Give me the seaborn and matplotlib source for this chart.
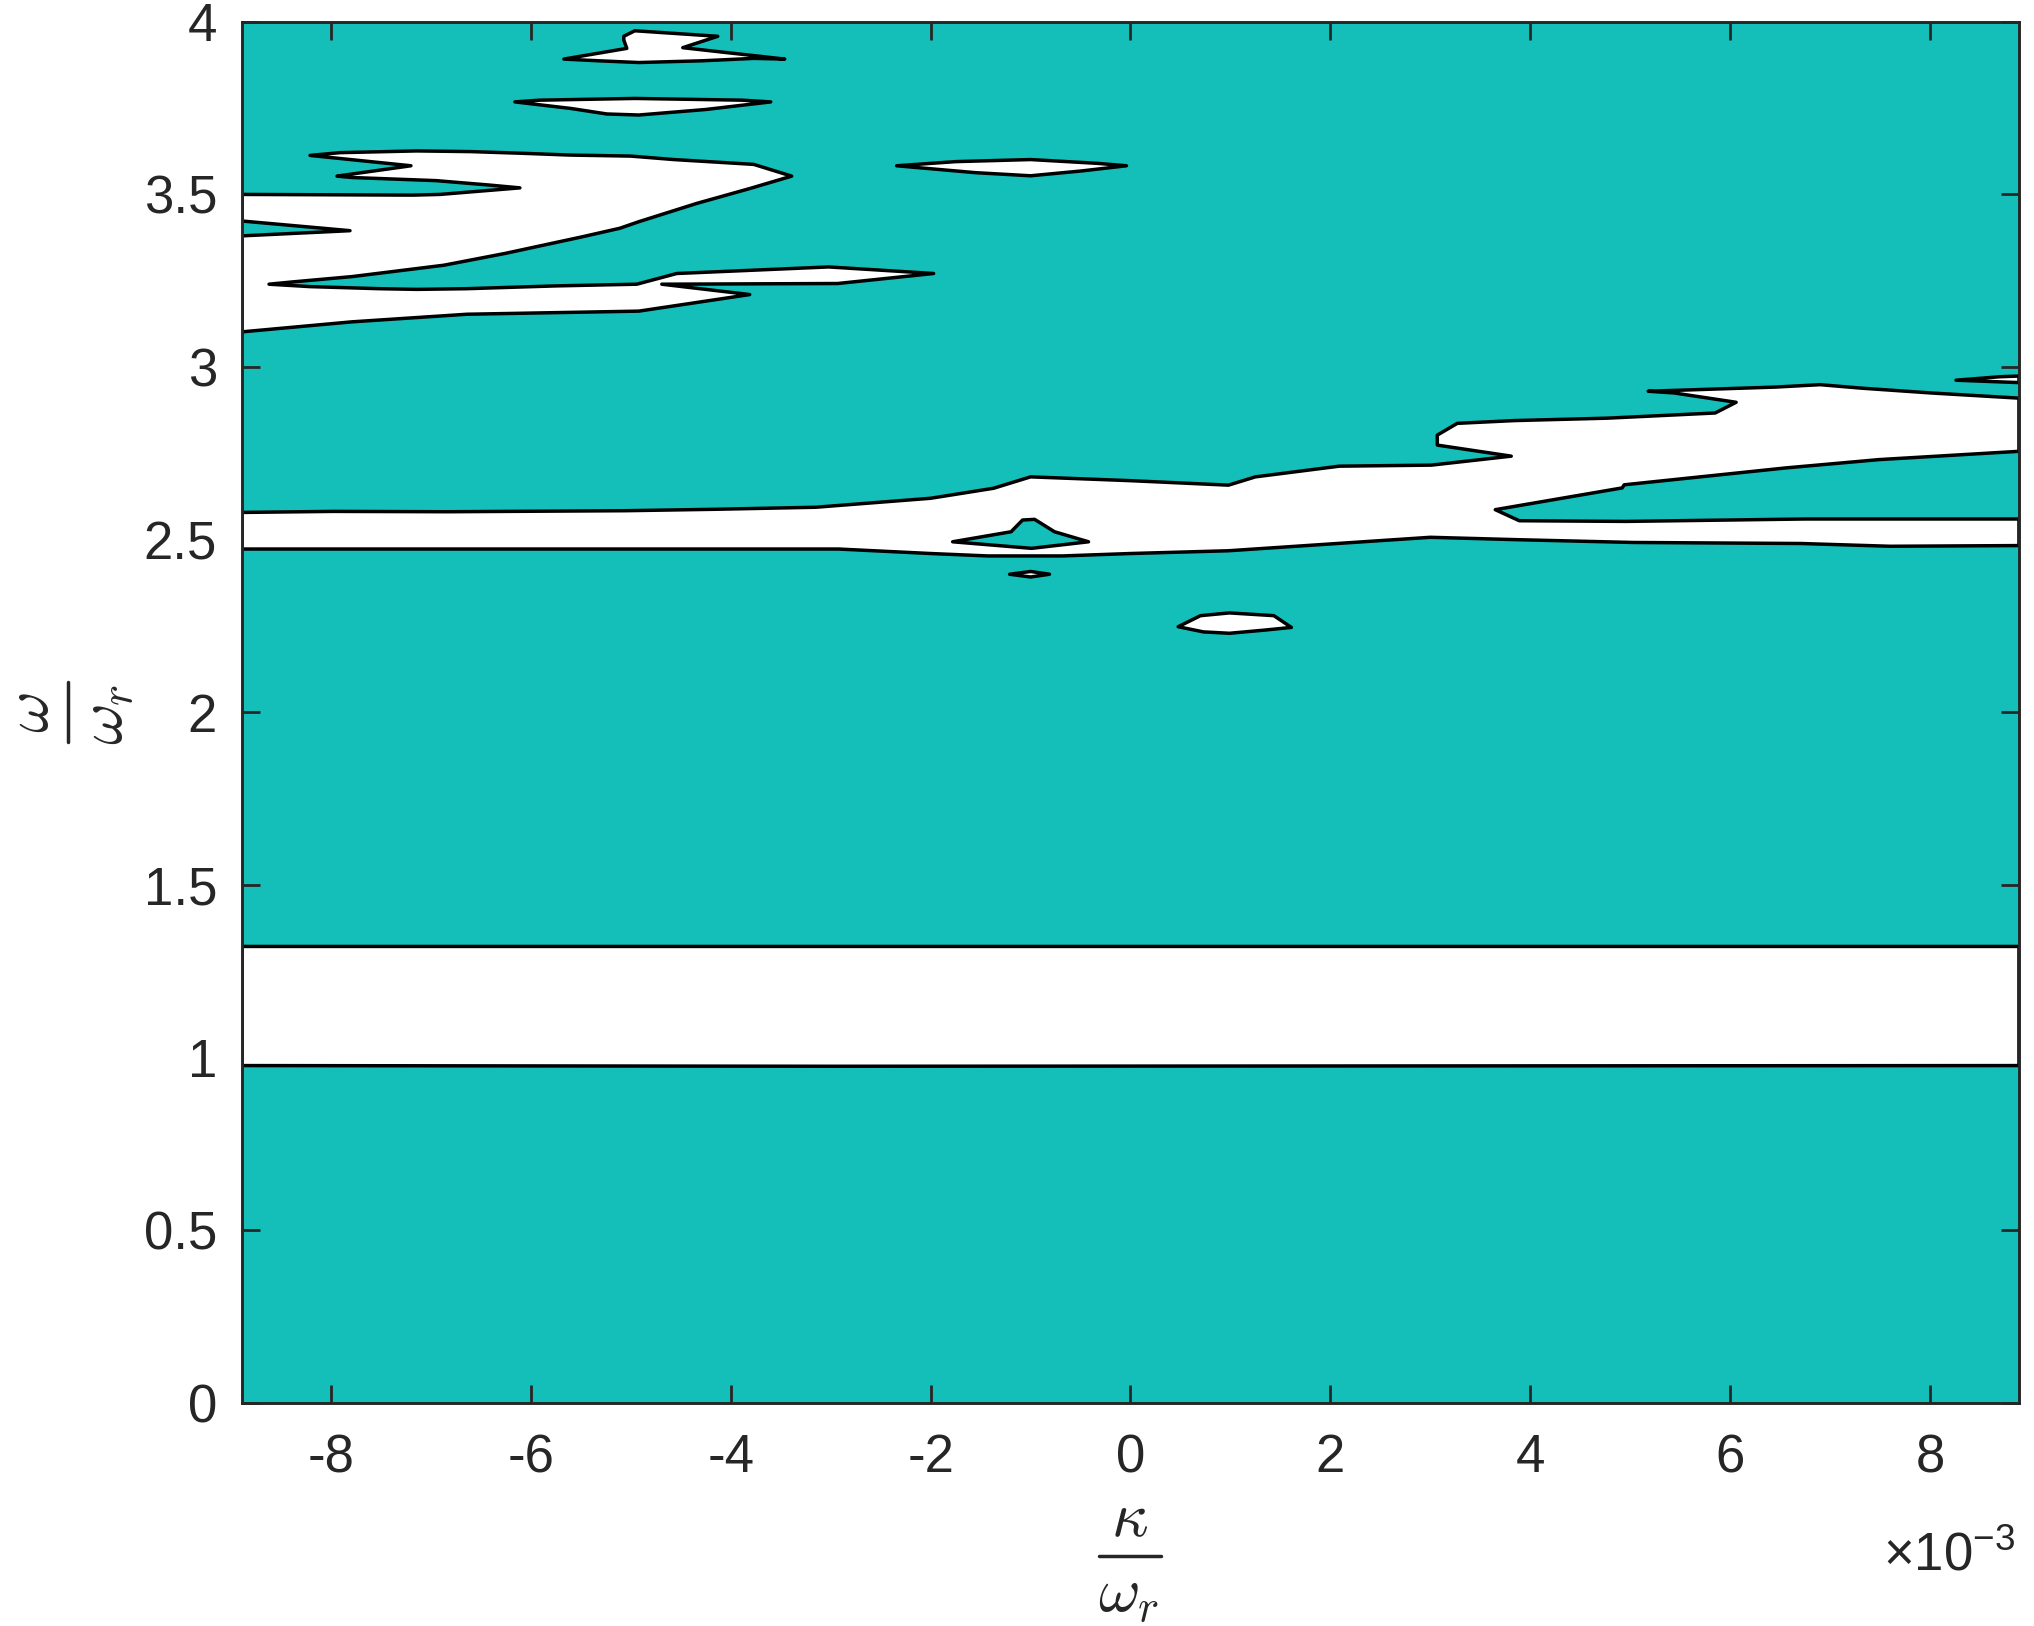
import matplotlib
matplotlib.use("Agg")
import matplotlib.pyplot as plt
from matplotlib.lines import Line2D
from matplotlib.ticker import MultipleLocator, FormatStrFormatter
import seaborn as sns

# axis ranges (kappa in units of 1e-3)
kappa_lim = [-8.89, 8.89]
omega_lim = [0.0, 4.0]

# unstable (white) regions
# big region in the upper left
ul_kappa = [-8.89, -8.89, -7.81, -8.89, -8.89, -7.18, -6.91, -6.11, -6.41, -6.95,
            -7.79, -7.94, -7.20, -8.21, -7.91, -7.14, -6.60, -6.07, -5.61, -5.00,
            -4.57, -3.77, -3.39, -3.81, -4.34, -4.92, -5.11, -5.49, -6.26, -6.87,
            -7.26, -7.79, -8.37, -8.62, -8.21, -7.52, -7.14, -6.64, -5.76, -4.94,
            -4.54, -3.02, -1.97, -2.93, -4.69, -3.81, -4.92, -6.64, -7.79]
ul_omega = [3.102, 3.380, 3.395, 3.423, 3.500, 3.498, 3.500, 3.519, 3.527, 3.540,
            3.549, 3.553, 3.583, 3.613, 3.621, 3.626, 3.624, 3.619, 3.614, 3.611,
            3.601, 3.587, 3.553, 3.517, 3.474, 3.421, 3.402, 3.377, 3.329, 3.295,
            3.281, 3.262, 3.247, 3.240, 3.233, 3.227, 3.225, 3.227, 3.235, 3.240,
            3.271, 3.290, 3.271, 3.242, 3.240, 3.210, 3.162, 3.153, 3.131]

# top island near omega = 3.9
top_kappa = [-5.67, -5.04, -5.07, -5.07, -4.96, -4.13, -4.48, -3.46, -3.77, -4.29, -4.92, -5.32]
top_omega = [3.892, 3.923, 3.947, 3.958, 3.974, 3.958, 3.925, 3.892, 3.894, 3.887, 3.882, 3.887]

# island near omega = 3.75
second_kappa = [-6.16, -5.91, -4.96, -3.89, -3.60, -4.25, -4.92, -5.24, -5.60]
second_omega = [3.768, 3.773, 3.778, 3.773, 3.768, 3.746, 3.730, 3.733, 3.749]

# island near omega = 3.58
mid_kappa = [-2.34, -1.75, -1.00, -0.33, -0.04, -0.49, -1.00, -1.55]
mid_omega = [3.583, 3.595, 3.601, 3.590, 3.583, 3.568, 3.554, 3.563]

# band around omega = 2.5 with its branch to the right
band25_kappa = [-8.89, -7.98, -6.83, -5.05, -4.18, -3.15, -2.00, -1.37, -1.00, 0.00,
                0.98, 1.25, 2.09, 3.01, 3.81, 3.07, 3.07, 3.27, 3.84, 4.77,
                5.85, 6.06, 5.44, 5.18, 6.45, 6.90, 7.31, 8.01, 8.89, 8.89,
                7.49, 6.56, 4.94, 4.92, 3.65, 3.89, 4.96, 6.75, 8.89, 8.89,
                7.60, 6.71, 5.03, 3.88, 3.00, 0.98, 0.00, -0.68, -1.43, -2.00,
                -2.92, -8.89]
band25_omega = [2.579, 2.582, 2.581, 2.584, 2.588, 2.594, 2.620, 2.649, 2.682, 2.671,
                2.658, 2.682, 2.713, 2.716, 2.742, 2.774, 2.803, 2.837, 2.845, 2.852,
                2.867, 2.898, 2.925, 2.930, 2.942, 2.949, 2.939, 2.925, 2.910, 2.756,
                2.732, 2.708, 2.659, 2.650, 2.587, 2.555, 2.553, 2.560, 2.560, 2.483,
                2.481, 2.489, 2.492, 2.500, 2.507, 2.468, 2.460, 2.453, 2.453, 2.460,
                2.473, 2.473]

# stable (teal) pocket inside the 2.5 band
pocket_kappa = [-1.78, -1.195, -1.08, -0.96, -0.76, -0.42, -0.99]
pocket_omega = [2.494, 2.523, 2.557, 2.559, 2.523, 2.494, 2.475]

# tiny island at omega = 2.4
dot_kappa = [-1.21, -1.00, -0.81, -1.00]
dot_omega = [2.400, 2.408, 2.400, 2.392]

# island near omega = 2.25
low_kappa = [0.477, 0.70, 0.99, 1.435, 1.61, 1.335, 0.99, 0.73]
low_omega = [2.248, 2.280, 2.288, 2.280, 2.246, 2.238, 2.229, 2.233]

# sliver at the right edge near omega = 2.96
edge_kappa = [8.26, 8.70, 8.89, 8.89]
edge_omega = [2.962, 2.972, 2.974, 2.955]

# band between omega = 1 and 1.3
band1_kappa = [-8.89, 8.89, 8.89, -2.97, -8.89]
band1_omega = [1.322, 1.322, 0.977, 0.975, 0.977]

teal = '#14bfb9'
dark = '#262626'
W, H = 2034, 1626

sns.set_theme(style='ticks')
plt.rcParams['font.family'] = ['Liberation Sans', 'DejaVu Sans']
plt.rcParams['axes.unicode_minus'] = False
plt.rcParams['mathtext.fontset'] = 'custom'
plt.rcParams['mathtext.rm'] = 'Liberation Sans'

fig = plt.figure(figsize=(W / 100, H / 100), dpi=100)
ax = fig.add_axes([0.119, 0.1372, 0.8736, 0.8494])
ax.set_facecolor(teal)

white_regions = [(ul_kappa, ul_omega), (top_kappa, top_omega), (second_kappa, second_omega),
                 (mid_kappa, mid_omega), (band25_kappa, band25_omega), (dot_kappa, dot_omega),
                 (low_kappa, low_omega), (edge_kappa, edge_omega), (band1_kappa, band1_omega)]
for kx, wy in white_regions:
    ax.fill(kx, wy, facecolor='white', edgecolor='black', linewidth=2.5, joinstyle='round', zorder=1)
ax.fill(pocket_kappa, pocket_omega, facecolor=teal, edgecolor='black', linewidth=2.5,
        joinstyle='round', zorder=1.2)

ax.set_xlim(kappa_lim)
ax.set_ylim(omega_lim)
ax.xaxis.set_major_locator(MultipleLocator(2))
ax.yaxis.set_major_locator(MultipleLocator(0.5))
ax.xaxis.set_major_formatter(FormatStrFormatter('%g'))
ax.yaxis.set_major_formatter(FormatStrFormatter('%g'))
ax.tick_params(direction='in', top=True, right=True, length=13, width=2, color=dark,
               labelsize=38, labelcolor=dark)
ax.tick_params(axis='x', pad=22)
ax.tick_params(axis='y', pad=18)
for sp in ax.spines.values():
    sp.set_linewidth(2.1)
    sp.set_color(dark)
    sp.set_zorder(3)

# axis labels as stacked fractions (MATLAB latex style, wide gaps)
def fx(px):
    return px / W

def fy(py):
    return 1 - py / H

lab = dict(fontsize=46, color=dark, math_fontfamily='cm')
# x label: kappa / omega_r
fig.text(fx(1130), fy(1536), r'$\kappa$', ha='center', va='baseline', **lab)
fig.add_artist(Line2D([fx(1099), fx(1161)], [fy(1556), fy(1556)], transform=fig.transFigure,
                      lw=2.5, color=dark))
fig.text(fx(1129), fy(1612), r'$\omega_r$', ha='center', va='baseline', **lab)
# y label: omega / omega_r
fig.text(fx(48), fy(713), r'$\omega$', ha='center', va='baseline', rotation=90,
         rotation_mode='anchor', **lab)
fig.add_artist(Line2D([fx(68), fx(68)], [fy(682), fy(742)], transform=fig.transFigure,
                      lw=2.5, color=dark))
fig.text(fx(123), fy(714), r'$\omega_r$', ha='center', va='baseline', rotation=90,
         rotation_mode='anchor', **lab)

ax.text(0.998, -0.121, r'$\times10^{-3}$', transform=ax.transAxes, ha='right', va='baseline',
        fontsize=38, color=dark)

fig.savefig('out.png', dpi=100)
